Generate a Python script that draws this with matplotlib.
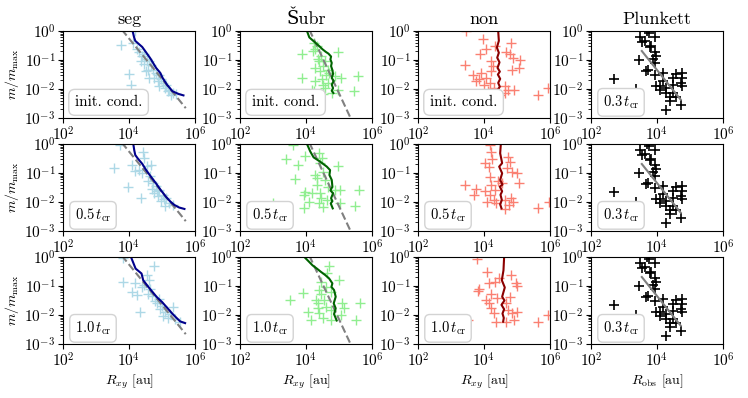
import matplotlib
matplotlib.use("Agg")
import matplotlib.pyplot as plt
import numpy as np
from matplotlib.ticker import LogLocator, NullLocator

plt.rcParams['font.family'] = ['cmr10', 'DejaVu Serif']
plt.rcParams['mathtext.fontset'] = 'cm'
plt.rcParams['axes.formatter.use_mathtext'] = True
plt.rcParams['axes.unicode_minus'] = False

# values, in log10 units (log10 R [au], log10 m/m_max)
# ---- seg ----
seg0_logR = [3.76, 4.19, 4.11, 4.23, 4.31, 4.39, 4.46, 4.54, 4.46, 4.60, 4.67, 4.57, 4.74, 4.82, 4.62, 4.92,
             4.87, 4.97, 5.04, 5.12, 5.22, 5.10, 5.32, 5.27, 5.42, 3.99, 4.06, 4.36, 4.52, 4.77, 4.92, 5.17]
seg0_logm = [-0.48, -0.01, -0.40, -0.63, -0.71, -0.86, -0.78, -0.98, -1.15, -1.03, -1.17, -1.33, -1.33, -1.44, -1.62, -1.50,
             -1.73, -1.67, -1.79, -1.85, -2.02, -1.97, -2.14, -2.20, -2.17, -1.48, -1.85, -1.03, -1.38, -1.62, -1.91, -2.08]
seg0_line_logR = [4.11, 4.15, 4.19, 4.30, 4.40, 4.52, 4.65, 4.82, 4.95, 5.02, 5.15, 5.32, 5.50, 5.65]
seg0_line_logm = [0.0, -0.20, -0.34, -0.45, -0.55, -0.74, -0.95, -1.27, -1.45, -1.62, -1.85, -2.08, -2.17, -2.22]

seg1_logR = [3.73, 3.56, 4.09, 4.43, 4.46, 4.54, 4.67, 4.19, 4.30, 3.96, 4.36, 4.57, 4.72, 4.82, 4.92, 5.02,
             4.87, 5.12, 5.22, 4.97, 5.32, 5.10, 4.77, 4.64, 4.40, 4.85, 5.05, 4.70]
seg1_logm = [-0.02, -0.83, -0.71, -0.29, -0.48, -0.77, -0.71, -0.94, -0.88, -1.48, -1.86, -1.29, -1.35, -1.46, -1.57, -1.75,
             -1.80, -1.86, -2.03, -1.98, -2.09, -2.14, -1.69, -1.11, -1.00, -1.62, -1.90, -1.55]
seg1_line_logR = [4.13, 4.16, 4.19, 4.28, 4.40, 4.52, 4.66, 4.82, 4.97, 5.12, 5.25, 5.37, 5.52, 5.68]
seg1_line_logm = [0.0, -0.22, -0.38, -0.52, -0.68, -0.90, -1.12, -1.36, -1.60, -1.82, -1.98, -2.10, -2.19, -2.24]

seg2_logR = [3.83, 3.83, 4.76, 4.54, 4.18, 4.08, 4.23, 4.59, 4.33, 4.84, 4.90, 4.65, 4.45, 4.70, 5.00, 5.32,
             5.04, 5.19, 5.55, 5.10, 4.95, 5.25, 4.40, 4.80, 4.60, 5.40]
seg2_logm = [-0.86, -0.05, -0.32, -0.63, -0.91, -1.20, -1.31, -1.26, -1.88, -1.60, -1.45, -1.10, -0.95, -1.35, -1.70, -1.71,
             -2.05, -2.11, -2.23, -1.90, -1.80, -1.95, -1.05, -1.50, -0.80, -2.15]
seg2_line_logR = [4.06, 4.20, 4.38, 4.43, 4.60, 4.84, 5.00, 5.14, 5.35, 5.55, 5.70]
seg2_line_logm = [0.0, -0.40, -0.57, -0.80, -1.05, -1.38, -1.55, -1.73, -2.00, -2.22, -2.28]

seg_dash_logR = [3.78, 5.72]
seg_dash_logm = [0.05, -2.66]

# ---- Subr ----
subr0_logR = [3.88, 4.23, 4.28, 4.33, 4.20, 4.46, 4.38, 4.28, 4.50, 4.58, 4.66, 4.98, 3.88, 4.28, 4.48, 4.60,
              4.68, 4.58, 4.88, 5.06, 4.98, 5.58, 5.46, 4.18, 4.23, 4.53, 4.78, 3.38, 4.43, 4.53, 4.36, 4.70]
subr0_logm = [-0.80, -0.40, -0.63, -0.51, -0.69, -0.86, -1.03, -1.27, -1.21, -1.03, -1.33, -0.74, -1.62, -1.73, -1.67, -1.50,
              -1.79, -1.97, -1.56, -1.62, -2.02, -1.56, -2.08, -2.02, -2.08, -2.17, -2.14, -2.20, -1.38, -1.85, -0.95, -1.45]
subr0_line_logR = [4.03, 4.10, 4.20, 4.28, 4.40, 4.50, 4.60, 4.68, 4.76, 4.74, 4.78, 4.76, 4.80, 4.82, 4.78, 4.84, 4.78, 4.82, 4.78, 4.83]
subr0_line_logm = [0.0, -0.22, -0.32, -0.40, -0.52, -0.63, -0.72, -0.78, -0.88, -0.98, -1.10, -1.21, -1.35, -1.48, -1.62, -1.72, -1.85, -1.97, -2.06, -2.14]

subr1_logR = [3.60, 3.40, 3.96, 3.76, 4.38, 4.48, 4.43, 4.96, 3.68, 4.28, 4.33, 4.50, 4.58, 4.33, 4.66, 3.98,
              3.93, 4.18, 4.43, 4.88, 5.03, 5.60, 4.46, 4.63, 4.08, 4.38, 5.03, 3.93, 5.48, 3.00, 4.53]
subr1_logm = [-0.03, -0.53, -0.41, -0.72, -0.32, -0.49, -0.67, -0.76, -1.22, -1.07, -1.18, -0.95, -1.24, -1.41, -1.47, -1.64,
              -1.76, -1.70, -1.70, -1.59, -1.59, -1.59, -1.87, -1.93, -1.99, -2.05, -2.05, -2.22, -2.14, -2.05, -2.16]
subr1_line_logR = [4.03, 4.13, 4.23, 4.43, 4.63, 4.73, 4.71, 4.78, 4.80, 4.74, 4.82, 4.76, 4.80, 4.75, 4.81]
subr1_line_logm = [0.0, -0.26, -0.46, -0.61, -0.78, -0.90, -1.07, -1.24, -1.47, -1.60, -1.70, -1.87, -1.97, -2.05, -2.22]

subr2_logR = [4.70, 5.00, 3.90, 4.40, 4.45, 4.60, 4.75, 4.45, 4.55, 4.30, 3.53, 5.10, 5.63, 4.35, 4.60, 4.75,
              5.15, 4.05, 4.40, 4.50, 4.75, 5.53, 4.15, 5.05, 4.35, 4.65]
subr2_logm = [-0.31, -0.80, -1.23, -1.14, -0.86, -1.03, -1.20, -1.26, -1.49, -1.49, -1.48, -1.60, -1.60, -1.77, -1.71, -1.83,
              -1.77, -1.88, -1.94, -2.11, -2.17, -2.17, -2.17, -2.00, -1.60, -0.55]
subr2_line_logR = [3.95, 4.08, 4.20, 4.33, 4.45, 4.58, 4.70, 4.80, 4.77, 4.85, 4.90, 4.84, 4.90, 4.85, 4.93]
subr2_line_logm = [0.0, -0.15, -0.29, -0.40, -0.51, -0.62, -0.74, -0.91, -1.03, -1.14, -1.37, -1.60, -1.77, -1.97, -2.19]

subr_dash_logR = [4.10, 5.35]
subr_dash_logm = [0.05, -3.0]

# ---- non ----
non0_logR = [3.46, 3.97, 4.33, 4.82, 4.07, 3.87, 4.68, 4.78, 4.89, 5.09, 4.22, 3.41, 4.27, 4.84, 5.06, 3.66,
             3.92, 4.22, 3.86, 4.07, 4.17, 3.76, 4.01, 4.31, 4.63, 4.73, 4.92, 4.11, 4.63, 4.48, 5.63, 5.93]
non0_logm = [0.0, -0.28, -0.51, -0.40, -0.63, -0.80, -0.74, -0.80, -0.92, -1.00, -1.03, -1.17, -1.21, -1.33, -1.29, -1.50,
             -1.44, -1.38, -1.67, -1.62, -1.79, -1.73, -1.85, -1.97, -1.91, -2.02, -2.02, -2.06, -2.14, -2.20, -2.20, -1.97]
non0_line_logR = [4.43, 4.45, 4.39, 4.45, 4.40, 4.47, 4.41, 4.48, 4.42, 4.49, 4.43, 4.48, 4.42, 4.47, 4.43]
non0_line_logm = [0.0, -0.34, -0.57, -0.75, -0.92, -1.08, -1.27, -1.40, -1.50, -1.65, -1.79, -1.92, -2.02, -2.12, -2.20]

non1_logR = [4.17, 4.22, 4.04, 4.14, 4.24, 4.73, 4.78, 4.71, 4.84, 4.99, 4.17, 4.43, 4.22, 4.55, 5.06, 3.41,
             3.77, 4.02, 4.32, 3.71, 4.17, 4.30, 4.10, 4.37, 4.63, 4.81, 4.89, 4.75, 4.63, 5.65, 5.96]
non1_logm = [-0.03, -0.26, -0.64, -0.78, -0.53, -0.44, -0.61, -0.84, -0.95, -1.01, -1.13, -1.29, -1.40, -1.35, -1.33, -1.41,
             -1.56, -1.61, -1.59, -1.76, -1.76, -1.93, -1.99, -2.04, -1.93, -1.87, -1.99, -2.10, -2.24, -2.22, -1.99]
non1_line_logR = [4.51, 4.49, 4.55, 4.46, 4.55, 4.49, 4.56, 4.48, 4.55, 4.50, 4.54, 4.49, 4.53]
non1_line_logm = [0.0, -0.32, -0.66, -0.78, -1.01, -1.24, -1.40, -1.47, -1.63, -1.75, -1.93, -2.08, -2.22]

non2_logR = [3.78, 4.08, 3.85, 3.82, 4.15, 4.33, 4.46, 4.82, 4.97, 5.00, 4.20, 4.05, 4.15, 4.40, 4.20, 4.30,
             4.72, 4.85, 5.00, 4.92, 3.51, 4.35, 4.66, 5.63, 5.94, 4.68, 4.78]
non2_logm = [-0.06, -0.51, -1.12, -1.16, -0.91, -0.86, -0.74, -0.63, -0.91, -1.00, -1.26, -1.48, -1.60, -1.43, -1.77, -1.94,
             -1.83, -1.94, -1.88, -2.17, -2.17, -2.23, -2.23, -2.23, -2.00, -1.60, -1.37]
non2_line_logR = [4.61, 4.59, 4.54, 4.63, 4.55, 4.62, 4.53, 4.61, 4.56, 4.60, 4.58]
non2_line_logm = [0.0, -0.46, -0.80, -1.05, -1.37, -1.50, -1.65, -1.80, -1.95, -2.10, -2.23]

# ---- Plunkett (observed, same in every row) ----
plk_logR = [3.71, 3.75, 3.49, 3.64, 3.95, 3.83, 3.93, 3.98, 3.88, 3.95, 3.44, 3.73, 3.68, 4.18, 3.93, 2.70,
            3.37, 3.98, 4.08, 4.18, 4.47, 4.28, 4.49, 4.77, 4.77, 4.72, 4.77, 4.28, 4.38, 4.57, 4.47, 4.72,
            4.28, 4.10, 3.55, 3.80, 4.58, 4.40]
plk_logm = [-0.01, -0.08, -0.22, -0.34, -0.20, -0.51, -0.74, -0.86, -0.98, -1.09, -1.01, -1.33, -1.38, -1.44, -1.50, -1.64,
            -1.99, -1.91, -1.91, -1.73, -1.62, -1.97, -1.85, -1.44, -1.62, -1.79, -1.91, -2.14, -2.26, -2.26, -2.15, -2.55,
            -2.72, -2.05, -0.38, -0.55, -1.48, -2.40]
plk_line_logR = [3.54, 4.72]
plk_line_logm = [-0.69, -2.37]

labels = ["init. cond.", r"$0.5\,t_{\rm cr}$", r"$1.0\,t_{\rm cr}$"]
plk_label = r"$0.3\,t_{\rm cr}$"
titles = ["seg", "Šubr", "non", "Plunkett"]

sims = [
    ([(seg0_logR, seg0_logm, seg0_line_logR, seg0_line_logm),
      (seg1_logR, seg1_logm, seg1_line_logR, seg1_line_logm),
      (seg2_logR, seg2_logm, seg2_line_logR, seg2_line_logm)],
     "lightblue", "darkblue", (seg_dash_logR, seg_dash_logm)),
    ([(subr0_logR, subr0_logm, subr0_line_logR, subr0_line_logm),
      (subr1_logR, subr1_logm, subr1_line_logR, subr1_line_logm),
      (subr2_logR, subr2_logm, subr2_line_logR, subr2_line_logm)],
     "lightgreen", "darkgreen", (subr_dash_logR, subr_dash_logm)),
    ([(non0_logR, non0_logm, non0_line_logR, non0_line_logm),
      (non1_logR, non1_logm, non1_line_logR, non1_line_logm),
      (non2_logR, non2_logm, non2_line_logR, non2_line_logm)],
     "salmon", "darkred", None),
]


def p10(a):
    return 10.0 ** np.asarray(a)


def style_axis(ax, row, col):
    ax.set_xscale("log")
    ax.set_yscale("log")
    ax.set_xlim(1e2, 1e6)
    ax.set_ylim(1e-3, 1e0)
    ax.set_xticks([1e2, 1e4, 1e6])
    ax.xaxis.set_minor_locator(NullLocator())
    ax.yaxis.set_major_locator(LogLocator(base=10, numticks=10))
    ax.yaxis.set_minor_locator(LogLocator(base=10, subs=np.arange(2, 10), numticks=10))
    ax.tick_params(labelsize=11, pad=2)
    ax.tick_params(which="minor", length=2)
    if col == 0:
        ax.set_ylabel(r"$m/m_{\rm max}$", fontsize=10, labelpad=2)
    if row == 2:
        if col == 3:
            ax.set_xlabel(r"$R_{\rm obs}$ [au]", fontsize=10, labelpad=2)
        else:
            ax.set_xlabel(r"$R_{xy}$ [au]", fontsize=10, labelpad=2)
    if row == 0:
        ax.set_title(titles[col], fontsize=13, pad=5)


def add_box(ax, text, size, pad):
    ax.text(0.09, 0.18, text, transform=ax.transAxes, fontsize=size, va="center", ha="left",
            bbox=dict(boxstyle="round,pad=%s" % pad, fc="white", ec="lightgray", lw=1.0))


fig = plt.figure(figsize=(7.48, 3.98), dpi=100)
W, H = 748.0, 398.0
lefts = [63, 240, 418, 591]
tops = [31, 144, 257]
aw, ah = 132, 87

for row in range(3):
    for col in range(4):
        ax = fig.add_axes([lefts[col] / W, 1 - (tops[row] + ah) / H, aw / W, ah / H])
        if col < 3:
            panels, pcol, lcol, dash = sims[col]
            pr, pm, lr, lm = panels[row]
            ax.plot(p10(pr), p10(pm), "+", color=pcol, ms=7, mew=1.0)
            if dash is not None:
                ax.plot(p10(dash[0]), p10(dash[1]), "--", color="gray", lw=1.5)
            ax.plot(p10(lr), p10(lm), "-", color=lcol, lw=1.5)
            if row == 0:
                add_box(ax, labels[row], 11, 0.4)
            else:
                add_box(ax, labels[row], 10.5, 0.35)
        else:
            ax.plot(p10(plk_logR), p10(plk_logm), "+", color="black", ms=7, mew=1.2)
            ax.plot(p10(plk_line_logR), p10(plk_line_logm), "-", color="gray", lw=1.5)
            add_box(ax, plk_label, 10.5, 0.35)
        style_axis(ax, row, col)

fig.savefig("out.png", dpi=100)
